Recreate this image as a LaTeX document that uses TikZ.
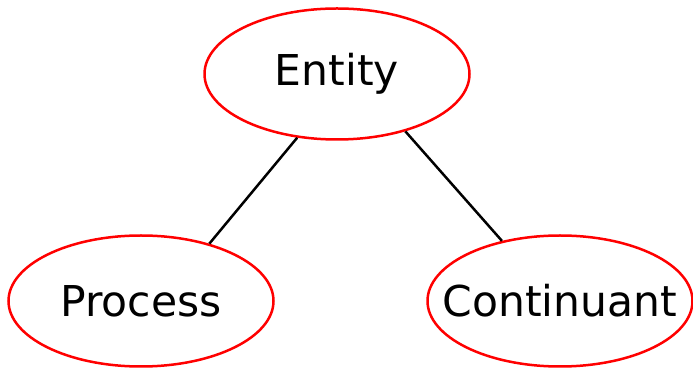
\documentclass[tikz,border=0pt]{standalone}
\usepackage{fontspec}
\setmainfont{DejaVu Sans}
\usetikzlibrary{shapes.geometric}

\begin{document}
\begin{tikzpicture}[x=1pt,y=1pt,
  class/.style={ellipse,draw=red,line width=2.5pt,minimum width=265pt,minimum height=131pt,inner sep=0pt,font=\fontsize{42.5}{50}\selectfont},
  link/.style={line width=2.5pt}]
 \useasboundingbox (0,0) rectangle (693,369);
 \node[class] (entity) at (337,295) {\makebox[0pt]{Entity}};
 \node[class] (process) at (141,68) {\makebox[0pt]{Process}};
 \node[class] (continuant) at (560,68) {\makebox[0pt]{Continuant}};
 \draw[link] (entity.238) -- (process.40);
 \draw[link] (entity.320) -- (continuant.134);
\end{tikzpicture}
\end{document}
